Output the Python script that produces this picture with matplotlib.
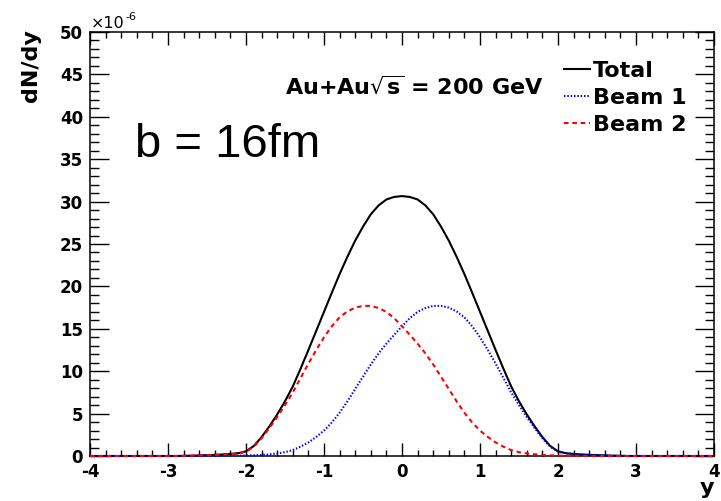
import numpy as np
import matplotlib
matplotlib.use("Agg")
import matplotlib.pyplot as plt
from matplotlib.ticker import MultipleLocator, FixedLocator

plt.rcParams["axes.unicode_minus"] = False
plt.rcParams["mathtext.fontset"] = "dejavusans"

# rapidity grid
rapidity = np.round(np.arange(-4.0, 4.0001, 0.1), 1)

# dN/dy in units of 1e-6
beam2 = [0, 0, 0, 0, 0, 0, 0, 0, 0, 0, 0, 0,
         0.02, 0.04, 0.07, 0.10, 0.13, 0.17, 0.22, 0.30, 0.50,
         1.10, 2.10, 3.30, 4.60, 6.00, 7.50, 9.20, 10.90, 12.50, 14.00,
         15.30, 16.35, 17.05, 17.50, 17.70, 17.70, 17.45, 17.00, 16.25, 15.30,
         14.30, 13.25, 12.10, 10.80, 9.35, 7.90, 6.45, 5.10, 3.95, 3.00,
         2.25, 1.60, 1.10, 0.70, 0.45, 0.30, 0.20, 0.13, 0.08, 0.05,
         0.03, 0.02, 0.01,
         0, 0, 0, 0, 0, 0, 0, 0, 0, 0, 0, 0, 0, 0, 0, 0, 0]

beam1 = [0, 0, 0, 0, 0, 0, 0, 0, 0, 0, 0, 0, 0, 0, 0, 0, 0,
         0.01, 0.02, 0.03,
         0.05, 0.08, 0.13, 0.20, 0.30, 0.45, 0.70, 1.10, 1.60, 2.25,
         3.00, 3.95, 5.10, 6.45, 7.90, 9.35, 10.80, 12.10, 13.25, 14.30,
         15.30, 16.25, 17.00, 17.45, 17.70, 17.70, 17.50, 17.05, 16.35, 15.30,
         14.00, 12.50, 10.90, 9.20, 7.50, 6.00, 4.60, 3.30, 2.10, 1.10,
         0.50, 0.30, 0.22, 0.17, 0.13, 0.10, 0.07, 0.04, 0.02,
         0, 0, 0, 0, 0, 0, 0, 0, 0, 0, 0, 0]

total = [0, 0, 0, 0, 0, 0, 0, 0, 0, 0, 0, 0,
         0.02, 0.04, 0.07, 0.10, 0.13, 0.18, 0.24, 0.33, 0.55,
         1.18, 2.23, 3.50, 4.90, 6.45, 8.20, 10.30, 12.50, 14.75, 17.00,
         19.25, 21.45, 23.50, 25.40, 27.05, 28.50, 29.55, 30.25, 30.55, 30.65,
         30.55, 30.25, 29.55, 28.50, 27.05, 25.40, 23.50, 21.45, 19.25, 17.00,
         14.75, 12.50, 10.30, 8.20, 6.45, 4.90, 3.50, 2.23, 1.18, 0.55,
         0.33, 0.24, 0.18, 0.13, 0.10, 0.07, 0.04, 0.02,
         0, 0, 0, 0, 0, 0, 0, 0, 0, 0, 0, 0]

x_ticks = [-4, -3, -2, -1, 0, 1, 2, 3, 4]
y_ticks = [0, 5, 10, 15, 20, 25, 30, 35, 40, 45, 50]

W, H = 721, 501
fig = plt.figure(figsize=(W / 100, H / 100), dpi=100)
left, right, top, bottom = 90, 714, 32, 456
ax = fig.add_axes([left / W, 1 - bottom / H, (right - left) / W, (bottom - top) / H])

lw = 1.5
ax.plot(rapidity, total, color="black", lw=lw, label="Total", clip_on=False, zorder=4)
ax.plot(rapidity, beam1, color="#0000ff", lw=lw, linestyle=(0, (0.7, 0.9)),
        label="Beam 1", clip_on=False, zorder=5)
ax.plot(rapidity, beam2, color="#ff0000", lw=lw, linestyle=(0, (2.2, 1.8)),
        label="Beam 2", clip_on=False, zorder=6)

ax.set_xlim(-4, 4)
ax.set_ylim(0, 50)
ax.xaxis.set_major_locator(FixedLocator(x_ticks))
ax.xaxis.set_minor_locator(MultipleLocator(0.2))
ax.yaxis.set_major_locator(FixedLocator(y_ticks))
ax.yaxis.set_minor_locator(MultipleLocator(1))
ax.set_xticklabels([str(t) for t in x_ticks])
ax.set_yticklabels([str(t) for t in y_ticks])

for sp in ax.spines.values():
    sp.set_linewidth(1.1)
    sp.set_color("black")

ax.tick_params(which="both", direction="in", top=True, right=True, width=1.0,
               colors="black")
ax.xaxis.set_tick_params(which="major", length=9.1, pad=5)
ax.xaxis.set_tick_params(which="minor", length=4.6)
ax.yaxis.set_tick_params(which="major", length=13.5, pad=5)
ax.yaxis.set_tick_params(which="minor", length=6.7)
for lab in ax.get_xticklabels() + ax.get_yticklabels():
    lab.set_fontsize(12)
    lab.set_fontweight("bold")
    lab.set_fontfamily("DejaVu Sans")

# axis titles
fig.text(31 / W, 1 - 29 / H, "dN/dy", rotation=90, ha="center", va="top",
         fontsize=16, fontweight="bold", family="DejaVu Sans")
fig.text(714 / W, 1 - 494 / H, "y", ha="right", va="baseline",
         fontsize=16, fontweight="bold", family="DejaVu Sans")

# exponent of the y axis
fig.text(91 / W, 1 - 28 / H, "\u00d710", ha="left", va="baseline",
         fontsize=11.5, family="DejaVu Sans")
fig.text(125 / W, 1 - 20 / H, "-6", ha="left", va="baseline",
         fontsize=8, family="DejaVu Sans")

# annotations
fig.text(285 / W, 1 - 94 / H, r"Au+Au$\sqrt{\mathbf{s}}$ = 200 GeV", ha="left",
         va="baseline", fontsize=16, fontweight="bold", family="DejaVu Sans")
fig.text(135 / W, 1 - 157 / H, "b = 16fm", ha="left", va="baseline",
         fontsize=34, family="Liberation Sans")

leg = ax.legend(loc="upper left", bbox_to_anchor=(564 / W, 1 - 61 / H),
                bbox_transform=fig.transFigure, frameon=False,
                prop={"family": "DejaVu Sans", "weight": "bold", "size": 16},
                handlelength=1.15, handletextpad=0.15, labelspacing=0.32,
                borderpad=0, borderaxespad=0)
for line in leg.get_lines():
    line.set_linewidth(1.5)

fig.savefig("out.png", dpi=100)
